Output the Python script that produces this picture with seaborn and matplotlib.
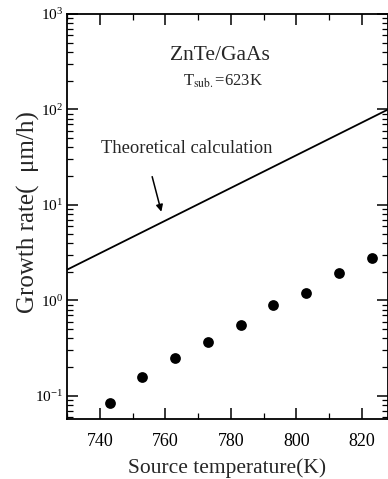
import matplotlib
matplotlib.use("Agg")
import matplotlib.pyplot as plt
import seaborn as sns
import pandas as pd
from matplotlib.ticker import LogLocator, MultipleLocator, NullFormatter

# Data
source_temp = [743, 753, 763, 773, 783, 793, 803, 813, 823]
growth_rate = [0.085, 0.157, 0.25, 0.37, 0.55, 0.89, 1.20, 1.93, 2.77]
theory_temp = [730, 828]
theory_rate = [2.1, 100]
x_ticks = [740, 760, 780, 800, 820]

sns.set_style("ticks")
plt.rcParams["font.family"] = ["Liberation Serif", "DejaVu Serif"]
plt.rcParams["mathtext.fontset"] = "stix"

fig = plt.figure(figsize=(3.88, 4.79), dpi=100)
ax = fig.add_axes([67/388, 1 - 419/479, 1 - 67/388, (419 - 14)/479])

df_pts = pd.DataFrame({"T": source_temp, "rate": growth_rate})
df_th = pd.DataFrame({"T": theory_temp, "rate": theory_rate})

sns.lineplot(data=df_th, x="T", y="rate", ax=ax, color="black", linewidth=1.3)
sns.scatterplot(data=df_pts, x="T", y="rate", ax=ax, color="black", s=60,
                edgecolor="black", linewidth=0, zorder=3)

ax.set_yscale("log")
ax.set_xlim(730, 828)
ax.set_ylim(0.0574, 1000)
ax.set_xticks(x_ticks)
ax.xaxis.set_minor_locator(MultipleLocator(10))
ax.yaxis.set_major_locator(LogLocator(base=10, numticks=10))
ax.yaxis.set_minor_locator(LogLocator(base=10, subs=range(2, 10), numticks=20))
ax.yaxis.set_minor_formatter(NullFormatter())

ax.tick_params(which="both", direction="in", top=True, right=True, colors="black")
ax.tick_params(which="major", length=8, width=1.1)
ax.tick_params(which="minor", length=4, width=0.9)
ax.tick_params(axis="x", which="major", labelsize=13, pad=10)
ax.tick_params(axis="y", which="major", labelsize=11, pad=3)
for s in ax.spines.values():
    s.set_linewidth(1.3)
    s.set_color("black")

ax.set_xlabel("Source temperature(K)", fontsize=15.5)
ax.xaxis.set_label_coords(0.5, -0.098)
ax.set_ylabel("Growth rate(  \u03bcm/h)", fontsize=18)
ax.yaxis.set_label_coords(-0.085, 0.51)

ax.text(776.8, 372, "ZnTe/GaAs", fontsize=15.5, ha="center", va="center")
ax.text(777.6, 196, r"T$_{\mathrm{sub.}}$=623K", fontsize=12, ha="center", va="center")
ax.text(766.6, 39.5, "Theoretical calculation", fontsize=13.4, ha="center", va="center")
ax.annotate("", xy=(758.8, 8.5), xytext=(756.0, 19.8),
            arrowprops=dict(arrowstyle="-|>", color="black", lw=1.1,
                            mutation_scale=10, shrinkA=0, shrinkB=0))

fig.savefig("out.png", dpi=100)
